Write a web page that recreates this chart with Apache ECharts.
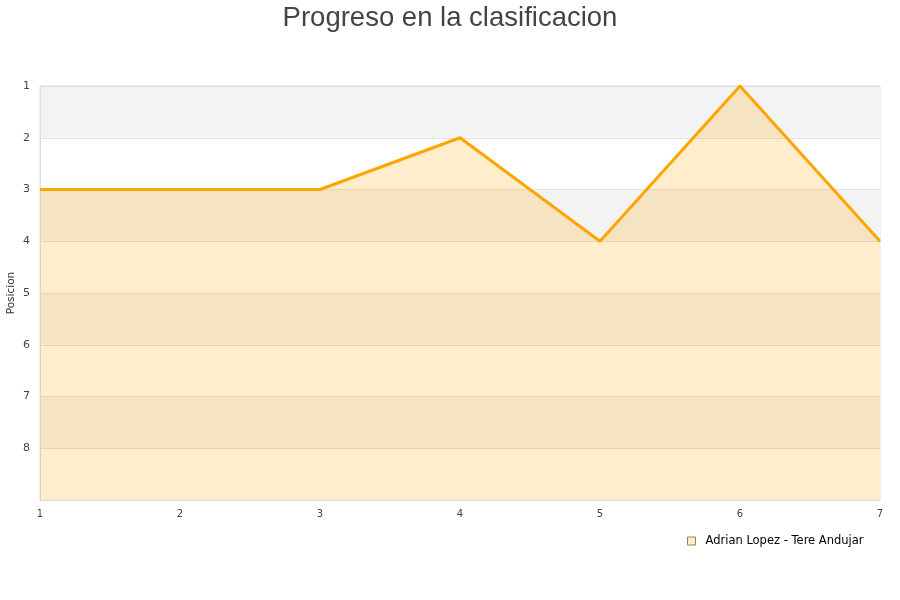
<!DOCTYPE html>
<html>
<head>
<meta charset="utf-8">
<script src="https://cdn.jsdelivr.net/npm/echarts@6/dist/echarts.min.js"></script>
<style>html,body{margin:0;padding:0;background:#fff}#c{width:900px;height:600px}</style>
</head>
<body>
<div id="c"></div>
<script>
const jornadas = ['1','2','3','4','5','6','7'];
const posiciones = [3,3,3,2,4,1,4];
const seriesName = 'Adrian Lopez - Tere Andujar';
const titleText = 'Progreso en la clasificacion';

const chart = echarts.init(document.getElementById('c'), null, {renderer:'canvas'});
chart.setOption({
  animation:false,
  textStyle:{fontFamily:'DejaVu Sans'},
  title:{text:titleText,left:'center',top:-1,textStyle:{fontSize:27.5,fontWeight:'normal',color:'#444',fontFamily:'Liberation Sans'}},
  grid:{left:40,right:20,top:86,bottom:100,outerBoundsMode:'none',containLabel:false,show:true,borderColor:'#ddd',borderWidth:1,backgroundColor:'transparent'},
  legend:{data:[{name:seriesName,icon:'rect'}],left:682,top:530,itemWidth:8,itemHeight:8,itemGap:10,
    textStyle:{fontSize:11.5,color:'#000',fontFamily:'DejaVu Sans',padding:[0,0,0,5]},
    itemStyle:{color:'#ffedcc',borderColor:'#a08050',borderWidth:1}},
  xAxis:{type:'category',data:jornadas,boundaryGap:false,
    axisLine:{show:true,lineStyle:{color:'#ddd'}},axisTick:{show:false},
    axisLabel:{fontSize:10,color:'#444',margin:9},splitLine:{show:false}},
  yAxis:{type:'value',inverse:true,min:1,max:9,interval:1,name:'Posicion',nameLocation:'middle',nameGap:23,nameMoveOverlap:false,
    nameTextStyle:{fontSize:10.5,color:'#333'},
    axisLine:{show:true,lineStyle:{color:'#ddd'}},axisTick:{show:false},
    axisLabel:{fontSize:11,color:'#444',margin:10,formatter:v=>v===9?'':String(v)},
    splitLine:{show:true,lineStyle:{color:'#e0e0e0',width:1}},
    splitArea:{show:true,areaStyle:{color:['#f3f3f3','#ffffff']}}},
  series:[{name:seriesName,type:'line',data:posiciones,symbol:'none',
    lineStyle:{color:'#ffa500',width:3},itemStyle:{color:'#ffa500'},
    areaStyle:{color:'rgba(255,165,0,0.2)',opacity:1,origin:'end'}}]
});
</script>
</body>
</html>
